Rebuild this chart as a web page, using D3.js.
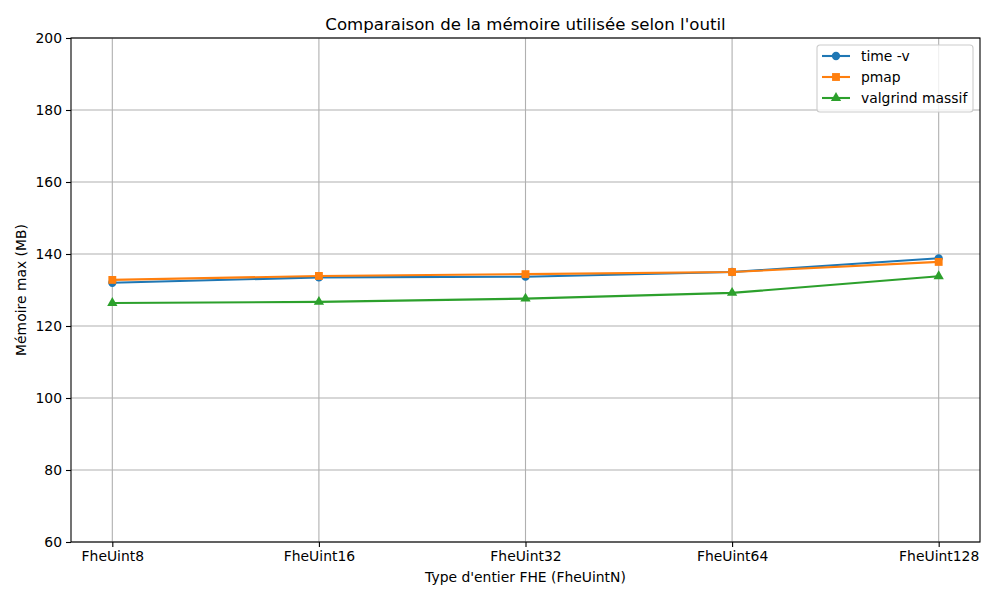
<!DOCTYPE html>
<html>
<head>
<meta charset="utf-8">
<script src="https://cdn.jsdelivr.net/npm/d3@7"></script>
<style>
  body { margin: 0; background: #fff; }
  svg { font-family: "DejaVu Sans", sans-serif; }
</style>
</head>
<body>
<svg id="chart"></svg>
<script>
// data
var categories = ["FheUint8", "FheUint16", "FheUint32", "FheUint64", "FheUint128"];
var timeV = [132.0, 133.5, 133.7, 135.0, 138.8];
var pmap = [132.8, 133.9, 134.4, 135.0, 137.8];
var massif = [126.4, 126.7, 127.6, 129.2, 133.8];
var yTicks = [60, 80, 100, 120, 140, 160, 180, 200];

var series = [
  {name: "time -v", values: timeV, color: "#1f77b4", marker: "circle"},
  {name: "pmap", values: pmap, color: "#ff7f0e", marker: "square"},
  {name: "valgrind massif", values: massif, color: "#2ca02c", marker: "triangle"}
];

const width = 1000;
const height = 600;
var margin = {top: 38, right: 20, bottom: 58, left: 71};
var w = width - margin.left - margin.right;
var h = height - margin.top - margin.bottom;
var fs = "13.9px";

var svg = d3.select("#chart").attr("width", width).attr("height", height);
var g = svg.append("g").attr("transform", `translate(${margin.left},${margin.top})`);

var x = d3.scaleLinear().domain([-0.2, categories.length - 1 + 0.2]).range([0, w]);
var y = d3.scaleLinear().domain([60, 200]).range([h, 0]);

// grid
g.append("g").selectAll("line").data(categories).join("line")
  .attr("x1", (d, i) => x(i)).attr("x2", (d, i) => x(i))
  .attr("y1", 0).attr("y2", h)
  .attr("stroke", "#b0b0b0").attr("stroke-width", 1.1);
g.append("g").selectAll("line").data(yTicks).join("line")
  .attr("x1", 0).attr("x2", w)
  .attr("y1", d => y(d)).attr("y2", d => y(d))
  .attr("stroke", "#b0b0b0").attr("stroke-width", 1.1);

// axes
var xAxis = g.append("g").attr("transform", `translate(0,${h})`)
  .call(d3.axisBottom(x).tickValues(d3.range(categories.length)).tickFormat(i => categories[i]).tickSizeOuter(0).tickSize(5).tickPadding(4));
var yAxis = g.append("g")
  .call(d3.axisLeft(y).tickValues(yTicks).tickSizeOuter(0).tickSize(5).tickPadding(4));
[xAxis, yAxis].forEach(a => {
  a.selectAll("text").attr("font-size", fs).attr("fill", "#000").attr("font-family", "DejaVu Sans");
  a.selectAll("line").attr("stroke", "#000").attr("stroke-width", 1.1);
  a.select(".domain").remove();
});

// frame
g.append("rect").attr("width", w).attr("height", h)
  .attr("fill", "none").attr("stroke", "#000").attr("stroke-width", 1.1);

// lines and markers
var line = d3.line().x((d, i) => x(i)).y(d => y(d));
var symbolFor = {circle: d3.symbolCircle, square: d3.symbolSquare, triangle: d3.symbolTriangle};
var symbolSize = {circle: 54, square: 62, triangle: 46};

series.forEach(s => {
  g.append("path").datum(s.values).attr("d", line)
    .attr("fill", "none").attr("stroke", s.color).attr("stroke-width", 2.1);
  g.append("g").selectAll("path").data(s.values).join("path")
    .attr("transform", (d, i) => `translate(${x(i)},${y(d)})`)
    .attr("d", d3.symbol().type(symbolFor[s.marker]).size(symbolSize[s.marker]))
    .attr("fill", s.color);
});

// title and labels
svg.append("text").attr("x", margin.left + w / 2).attr("y", 30)
  .attr("text-anchor", "middle").attr("font-size", "16.6px").text("Comparaison de la mémoire utilisée selon l'outil");
svg.append("text").attr("x", margin.left + w / 2).attr("y", 582)
  .attr("text-anchor", "middle").attr("font-size", fs).text("Type d'entier FHE (FheUintN)");
svg.append("text").attr("transform", `translate(26,${margin.top + h / 2}) rotate(-90)`)
  .attr("text-anchor", "middle").attr("font-size", fs).text("Mémoire max (MB)");

// legend
var legend = svg.append("g").attr("transform", "translate(817,45)");
legend.append("rect").attr("width", 156).attr("height", 67).attr("rx", 3)
  .attr("fill", "#fff").attr("fill-opacity", 0.8).attr("stroke", "#cccccc").attr("stroke-width", 1.1);
series.forEach((s, i) => {
  var ly = 11 + i * 21;
  legend.append("line").attr("x1", 5).attr("x2", 33).attr("y1", ly).attr("y2", ly)
    .attr("stroke", s.color).attr("stroke-width", 2.1);
  legend.append("path").attr("transform", `translate(19,${ly})`)
    .attr("d", d3.symbol().type(symbolFor[s.marker]).size(symbolSize[s.marker]))
    .attr("fill", s.color);
  legend.append("text").attr("x", 44).attr("y", ly).attr("dominant-baseline", "central")
    .attr("font-size", fs).text(s.name);
});
</script>
</body>
</html>
